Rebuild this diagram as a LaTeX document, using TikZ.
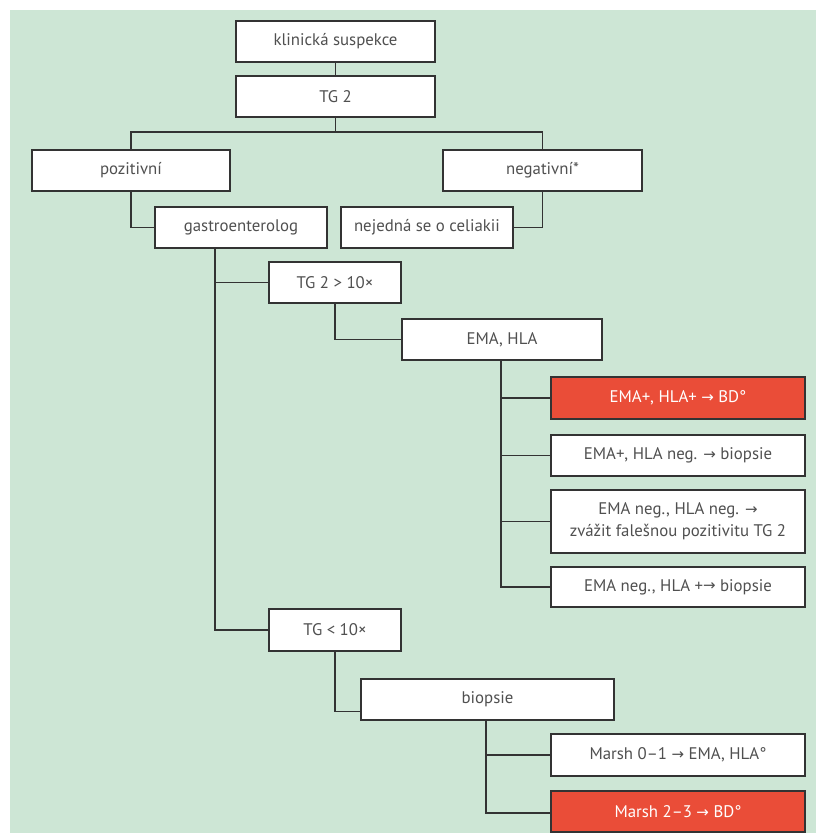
\documentclass[tikz,border=0pt]{standalone}
\usepackage{fontspec}
\setmainfont{PT Sans}
\newfontfamily\arrowfont{DejaVu Sans}
\definecolor{mint}{HTML}{CDE6D5}
\definecolor{boxred}{HTML}{EA4D38}
\definecolor{linegray}{HTML}{333333}
\definecolor{txtgray}{HTML}{505050}
\newcommand{\arr}{{\arrowfont\fontsize{15}{15}\selectfont\raisebox{0.3pt}{→}}}
\begin{document}
\begin{tikzpicture}[x=1pt,y=-1pt,
  box/.style={draw=linegray,line width=1.3pt,fill=white,inner sep=0pt,
    minimum height=41pt,text=txtgray,align=center,
    font=\fontsize{16.8}{22}\selectfont},
  redbox/.style={box,fill=boxred,text=white},
  conn/.style={draw=linegray,line width=1.3pt}]
\useasboundingbox (0,0) rectangle (816,833);
\fill[mint] (10,10) rectangle (816,833);
\node[box,minimum width=199pt] (kl) at (335.5,41.5) {klinická suspekce};
\node[box,minimum width=199pt] (tg2) at (335.5,96.5) {TG 2};
\node[box,minimum width=198pt] (poz) at (131,170.5) {pozitivní};
\node[box,minimum width=199pt] (neg) at (542.5,170.5) {negativní*};
\node[box,minimum width=172pt] (gastro) at (241,227.5) {gastroenterolog};
\node[box,minimum width=172pt] (nej) at (427,227.5) {nejedná se o celiakii};
\node[box,minimum width=132pt] (tga) at (335,282.5) {TG 2 > 10×};
\node[box,minimum width=200pt] (ema) at (502,339.5) {EMA, HLA};
\node[redbox,minimum width=254pt,minimum height=42pt] (r1) at (678,398) {EMA+, HLA+ \arr\ BD°};
\node[box,minimum width=254pt] (r2) at (678,455.5) {EMA+, HLA neg. \arr\ biopsie};
\node[box,minimum width=254pt,minimum height=63pt] (r3) at (678,521.5) {EMA neg., HLA neg. \arr\\zvážit falešnou pozitivitu TG 2};
\node[box,minimum width=254pt,minimum height=40pt] (r4) at (678,587) {EMA neg., HLA +\arr\ biopsie};
\node[box,minimum width=132pt,minimum height=42pt] (tgb) at (335,630) {TG < 10×};
\node[box,minimum width=253pt] (bio) at (487.5,699.5) {biopsie};
\node[box,minimum width=254pt,minimum height=42pt] (m1) at (678,755) {Marsh 0–1 \arr\ EMA, HLA°};
\node[redbox,minimum width=254pt] (m2) at (678,811.5) {Marsh 2–3 \arr\ BD°};
% connectors
\path[conn] (kl.south) -- (tg2.north);
\coordinate (split) at (335.5,132);
\path[conn] (tg2.south) -- (split);
\path[conn] (poz.north) |- (split) -| (neg.north);
\path[conn] (poz.south) |- (gastro.west);
\path[conn] (neg.south) |- (nej.east);
\coordinate (gx) at (215,248);
\path[conn] (gx) |- (tgb.west);
\path[conn] (gx |- tga.west) -- (tga.west);
\path[conn] (tga.south) |- (ema.west);
\coordinate (ex) at (501,360);
\path[conn] (ex) |- (r4.west);
\path[conn] (ex |- r1.west) -- (r1.west);
\path[conn] (ex |- r2.west) -- (r2.west);
\path[conn] (ex |- r3.west) -- (r3.west);
\coordinate (bw) at ([yshift=-12pt]bio.west);
\path[conn] (tgb.south) |- (bw);
\coordinate (bx) at (486,720);
\path[conn] (bx) |- ([yshift=-1.5pt]m2.west);
\path[conn] (bx |- m1.west) -- (m1.west);
\end{tikzpicture}
\end{document}
